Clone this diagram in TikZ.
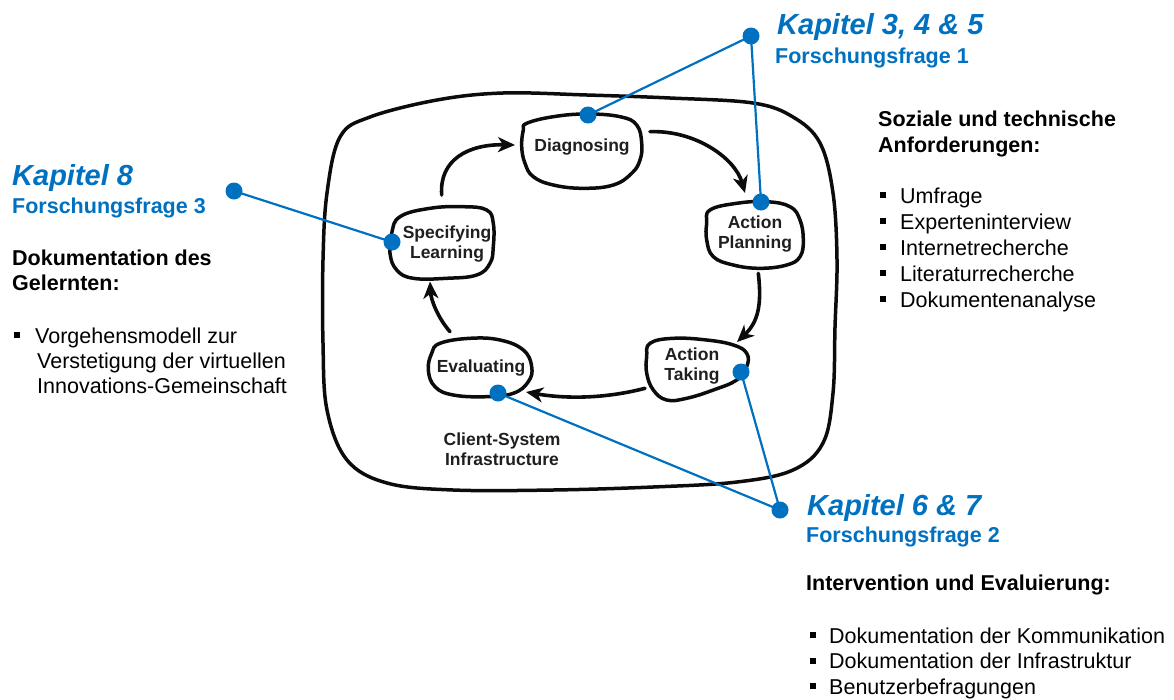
\documentclass[tikz,border=0pt]{standalone}
\usepackage{fontspec}
\setmainfont{Liberation Sans}
\usetikzlibrary{arrows.meta}
\definecolor{kapblue}{RGB}{0,112,192}
\definecolor{ink}{RGB}{12,12,12}
\newcommand{\sqbul}{\rule[5pt]{6pt}{6pt}}

\begin{document}
\begin{tikzpicture}[x=1pt,y=-1pt,
  sketch/.style={draw=ink, line width=3.5pt, line join=round, line cap=round},
  cyc/.style={draw=ink, line width=3.6pt, line cap=round, -{Stealth[length=17pt,width=15pt,inset=5pt]}},
  steptext/.style={font=\fontsize{17.5}{20}\selectfont\bfseries, text=ink!92, align=center, inner sep=0pt},
  link/.style={draw=kapblue, line width=2.2pt},
  pin/.style={circle, fill=kapblue, minimum size=17pt, inner sep=0pt},
  kap/.style={anchor=base west, inner sep=0pt, text=kapblue, font=\fontsize{29}{33}\selectfont\bfseries\itshape},
  ff/.style={anchor=base west, inner sep=0pt, text=kapblue, font=\fontsize{21.5}{26}\selectfont\bfseries},
  head/.style={anchor=base west, inner sep=0pt, font=\fontsize{21.5}{26}\selectfont\bfseries},
  item/.style={anchor=base west, inner sep=0pt, font=\fontsize{21.5}{26}\selectfont},
]
\useasboundingbox (0,0) rectangle (1174,699);

% ---- client-system infrastructure (outer hand-drawn frame)
\draw[sketch] plot[smooth cycle, tension=0.6] coordinates {
  (340,137) (370,117) (437,100) (503,93) (587,95) (670,98) (753,103)
  (793,117) (820,143) (833,193) (837,260) (835,327) (833,393) (823,443)
  (793,470) (737,482) (653,487) (553,490) (453,490) (387,483) (347,460)
  (327,410) (323,343) (323,260) (327,193)};

% ---- the five stages
\draw[sketch] plot[smooth cycle, tension=0.7] coordinates {
  (526.7,123.3) (553.3,116.7) (586.7,114) (620,116.7) (636.7,125) (641.7,143.3)
  (640,160) (631.7,173.3) (613.3,185) (583.3,188.3) (553.3,185) (533.3,176.7)
  (525,163.3) (521.7,146.7) (523.3,130)};
\draw[sketch] plot[smooth cycle, tension=0.7] coordinates {
  (710,210) (736.7,203.3) (766.7,201.7) (790,206.7) (800,220) (803.3,240)
  (800,256.7) (786.7,265) (760,268.3) (733.3,265) (713.3,256.7) (706.7,240)
  (706.7,223.3)};
\draw[sketch] plot[smooth cycle, tension=0.7] coordinates {
  (650,343.3) (673.3,338.3) (706.7,340) (733.3,345) (746.7,353.3) (746.7,366.7)
  (736.7,380) (713.3,390) (686.7,398.3) (666.7,400) (653.3,390) (646.7,373.3)
  (646.7,356.7)};
\draw[sketch] plot[smooth cycle, tension=0.7] coordinates {
  (440,343.3) (470,338.3) (500,340) (523.3,350) (531.7,366.7) (528.3,381.7)
  (513.3,393.3) (486.7,396.7) (453.3,395) (435,386.7) (428.3,370) (431.7,353.3)};
\draw[sketch] plot[smooth cycle, tension=0.7] coordinates {
  (400,216.7) (430,208.3) (463.3,206.7) (486.7,210) (493.3,223.3) (493.3,246.7)
  (490,263.3) (476.7,275) (446.7,278.3) (413.3,278.3) (396.7,270) (390,253.3)
  (391.7,233.3)};

\node[steptext] (diag) at (582,147) {Diagnosing};
\node[steptext] (plan) at (755,234) {Action\\Planning};
\node[steptext] (take) at (692,366) {Action\\Taking};
\node[steptext] (eval) at (481,368) {Evaluating};
\node[steptext] (spec) at (447,244) {Specifying\\Learning};
\node[steptext] (infra) at (502,449) {Client-System\\Infrastructure};

% ---- cycle arrows
\coordinate (a1s) at (650,131.7);  \coordinate (a1e) at (745,193);
\coordinate (a2s) at (758.3,273.3); \coordinate (a2e) at (737,342);
\coordinate (a3s) at (645,388.3);  \coordinate (a3e) at (526,392);
\coordinate (a4s) at (450,331.7);  \coordinate (a4e) at (430,281.5);
\coordinate (a5s) at (441.7,195);  \coordinate (a5e) at (515,145);
\draw[cyc] (a1s) .. controls (695,130) and (735,158) .. (a1e);
\draw[cyc] (a2s) .. controls (762,305) and (758,322) .. (a2e);
\draw[cyc] (a3s) .. controls (600,400) and (560,398) .. (a3e);
\draw[cyc] (a4s) .. controls (438,318) and (431,300) .. (a4e);
\draw[cyc] (a5s) .. controls (439,160) and (468,144) .. (a5e);

% ---- chapter links
\coordinate (k1) at (751,36);
\coordinate (k2) at (234,191);
\coordinate (k3) at (780,510);
\coordinate (dDiag) at (588,115);
\coordinate (dPlan) at (761,202);
\coordinate (dSpec) at (392,242);
\coordinate (dTake) at (741,372);
\coordinate (dEval) at (498,393);
\draw[link] (k1) -- (dDiag);
\draw[link] (k1) -- (dPlan);
\draw[link] (k2) -- (dSpec);
\draw[link] (k3) -- (dTake);
\draw[link] (k3) -- (dEval);
\foreach \p in {k1,k2,k3,dDiag,dPlan,dSpec,dTake,dEval}
  \node[pin] (pin-\p) at (\p) {};

% ---- research question 1
\node[kap] (kap1) at (777,34.3) {Kapitel 3, 4 \& 5};
\node[ff] (ff1) at (775,63.3) {Forschungsfrage 1};
\node[head] (h1a) at (878,126) {Soziale und technische};
\node[head] (h1b) at (878,152) {Anforderungen:};
\node[item] (i1a) at (880,203) {\sqbul\hspace{14pt}Umfrage};
\node[item] (i1b) at (880,229) {\sqbul\hspace{14pt}Experteninterview};
\node[item] (i1c) at (880,255) {\sqbul\hspace{14pt}Internetrecherche};
\node[item] (i1d) at (880,281) {\sqbul\hspace{14pt}Literaturrecherche};
\node[item] (i1e) at (880,307) {\sqbul\hspace{14pt}Dokumentenanalyse};

% ---- research question 3
\node[kap] (kap3) at (12,185) {Kapitel 8};
\node[ff] (ff3) at (12,213) {Forschungsfrage 3};
\node[head] (h3a) at (12,265) {Dokumentation des};
\node[head] (h3b) at (12,290) {Gelernten:};
\node[item] (i3a) at (14,343) {\sqbul\hspace{15pt}Vorgehensmodell zur};
\node[item] (i3b) at (37,368) {Verstetigung der virtuellen};
\node[item] (i3c) at (37,393.5) {Innovations-Gemeinschaft};

% ---- research question 2
\node[kap] (kap2) at (807,515) {Kapitel 6 \& 7};
\node[ff] (ff2) at (806,542) {Forschungsfrage 2};
\node[head] (h2a) at (806,590) {Intervention und Evaluierung:};
\node[item] (i2a) at (810,643) {\sqbul\hspace{13pt}Dokumentation der Kommunikation};
\node[item] (i2b) at (810,668.5) {\sqbul\hspace{13pt}Dokumentation der Infrastruktur};
\node[item] (i2c) at (810,694) {\sqbul\hspace{13pt}Benutzerbefragungen};
\end{tikzpicture}
\end{document}
